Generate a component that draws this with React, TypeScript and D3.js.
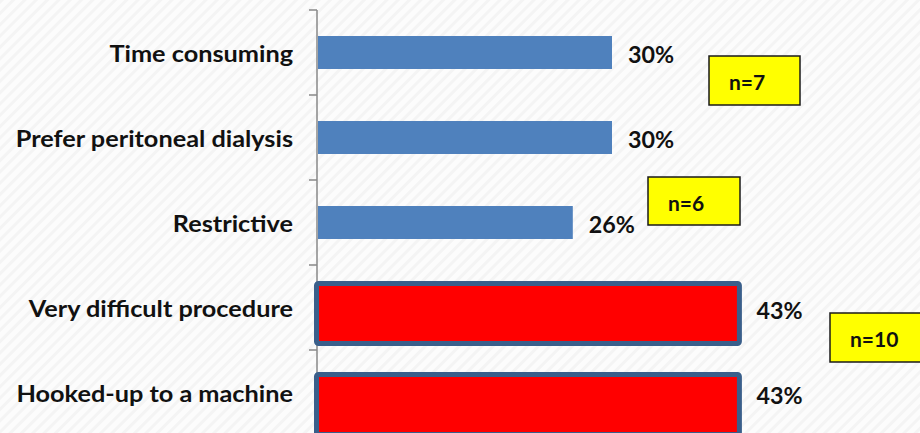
import React from 'react';
import * as d3 from 'd3';

const categories = [
  'Time consuming',
  'Prefer peritoneal dialysis',
  'Restrictive',
  'Very difficult procedure',
  'Hooked-up to a machine',
];
const values = [30, 30, 26, 43, 43];
const highlighted = [false, false, false, true, true];
const valueLabels = ['30%', '30%', '26%', '43%', '43%'];
const annotationTexts = ['n=7', 'n=6', 'n=10'];

const W = 920;
const H = 433;
const FONT = 'Lato, "Open Sans", sans-serif';

const boxLayout = [
  { x: 709, y: 56, w: 91, h: 49 },
  { x: 648, y: 177, w: 92, h: 48 },
  { x: 830, y: 313, w: 100, h: 49 },
];
const highlightShift: Record<number, number> = { 3: -24, 4: -18 };

export default function App() {
  const x = d3.scaleLinear().domain([0, 50]).range([318, 808]);
  const y = d3
    .scaleBand<string>()
    .domain(categories)
    .range([10, 435])
    .paddingInner(0.612)
    .paddingOuter(0.306);
  const step = y.step();
  const bw = y.bandwidth();
  const axisX = 317;
  const boundaries = categories.map((c) => (y(c) as number) - (step * 0.612) / 2);
  boundaries.push(435);

  const valueText = (i: number, tx: number, ty: number) => (
    <text
      transform={`translate(${tx},${ty}) scale(1.06,1)`}
      dominantBaseline="central"
      fontWeight="bold"
      fontSize={22}
      fill="#111"
    >
      {valueLabels[i]}
    </text>
  );

  return (
    <svg
      width={W}
      height={H}
      style={{ position: 'absolute', left: 0, top: 0, display: 'block' }}
      fontFamily={FONT}
    >
      <defs>
        <pattern
          id="stripes"
          width={8}
          height={8}
          patternUnits="userSpaceOnUse"
          patternTransform="rotate(45)"
        >
          <rect width={8} height={8} fill="#fcfcfc" />
          <rect width={3} height={8} fill="#f4f4f4" />
        </pattern>
      </defs>
      <rect width={W} height={H} fill="url(#stripes)" />

      {/* axis */}
      <line x1={axisX} x2={axisX} y1={boundaries[0]} y2={H} stroke="#898989" strokeWidth={1.5} />
      {boundaries.map((b, i) => (
        <line key={i} x1={309} x2={axisX} y1={b} y2={b} stroke="#898989" strokeWidth={1.5} />
      ))}

      {categories.map((c, i) => {
        const yc = (y(c) as number) + bw / 2;
        const v = values[i];
        if (highlighted[i]) {
          const top = yc + highlightShift[i];
          return (
            <g key={c}>
              <rect
                x={316.5}
                y={top}
                width={x(v) - 316.5}
                height={60}
                rx={2}
                fill="#ff0000"
                stroke="#3a5f8b"
                strokeWidth={5}
              />
              {valueText(i, x(v) + 17, yc + 3)}
            </g>
          );
        }
        return (
          <g key={c}>
            <rect x={x(0)} y={y(c)} width={x(v) - x(0)} height={bw} fill="#4f81bd" />
            {valueText(i, x(v) + 16, yc + 2)}
          </g>
        );
      })}

      {categories.map((c) => (
        <text
          key={c}
          transform={`translate(293,${(y(c) as number) + bw / 2 + 1}) scale(1.15,1)`}
          textAnchor="end"
          dominantBaseline="central"
          fontWeight="bold"
          fontSize={22}
          fill="#111"
        >
          {c}
        </text>
      ))}

      {annotationTexts.map((t, i) => {
        const b = boxLayout[i];
        return (
          <g key={t}>
            <rect x={b.x} y={b.y} width={b.w} height={b.h} fill="#ffff00" stroke="#1a1a1a" strokeWidth={1.5} />
            <text
              transform={`translate(${b.x + 20},${b.y + b.h / 2 + 2}) scale(1.05,1)`}
              dominantBaseline="central"
              fontWeight="bold"
              fontSize={20}
              fill="#111"
            >
              {t}
            </text>
          </g>
        );
      })}
    </svg>
  );
}
